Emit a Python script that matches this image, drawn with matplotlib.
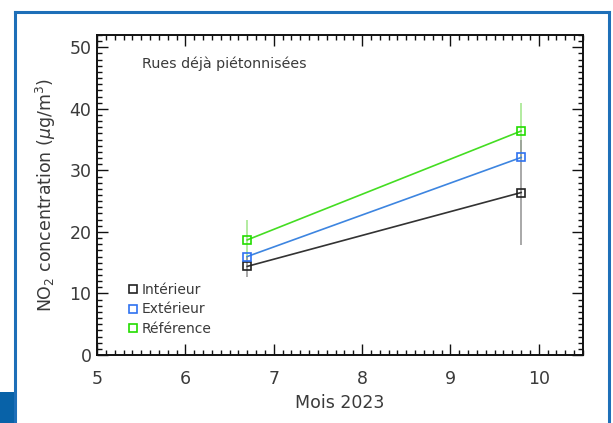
import matplotlib
matplotlib.use("Agg")
import matplotlib.pyplot as plt
from matplotlib.patches import Rectangle
from matplotlib.lines import Line2D
from matplotlib.ticker import MultipleLocator

plt.rcParams['font.family'] = ['DejaVu Sans']

# Data
months = [6.7, 9.8]
interieur = [14.4, 26.4]
interieur_err = [1.7, 8.6]
exterieur = [16.0, 32.1]
reference = [18.7, 36.4]
reference_err = [3.2, 4.6]
series_labels = ["Intérieur", "Extérieur", "Référence"]
title_text = "Rues déjà piétonnisées"
xlabel = "Mois 2023"
ylabel = r"NO$_2$ concentration ($\mu$g/m$^3$)"

W, H = 613, 423
fig = plt.figure(figsize=(W / 100, H / 100), dpi=100)

# decorative frame
frame_col = "#1e6fb8"
fig.add_artist(Line2D([14.5 / W, 14.5 / W], [0, 1 - 12 / H], transform=fig.transFigure, color=frame_col, lw=2.2))
fig.add_artist(Line2D([14.5 / W, 609 / W], [1 - 12 / H, 1 - 12 / H], transform=fig.transFigure, color=frame_col, lw=2.2))
fig.add_artist(Line2D([609 / W, 609 / W], [0, 1 - 12 / H], transform=fig.transFigure, color=frame_col, lw=2.2))
fig.add_artist(Rectangle((0, 0), 15.5 / W, 31 / H, transform=fig.transFigure, color="#0862a8", lw=0))

ax = fig.add_axes([97 / W, 1 - 355 / H, (583 - 97) / W, (355 - 35) / H])

txt = "#3a3a3a"
# error bars
ax.errorbar(months, reference, yerr=reference_err, fmt='none', ecolor="#a6e890", elinewidth=1.2, zorder=2)
ax.errorbar(months, interieur, yerr=interieur_err, fmt='none', ecolor="#9a9a9a", elinewidth=1.2, zorder=2.5)

ax.plot(months, interieur, color="#333333", lw=1.2, marker='s', ms=5.3, mfc='none', mec="#222222", mew=1.2,
        label=series_labels[0], zorder=3)
ax.plot(months, exterieur, color="#3d85e0", lw=1.2, marker='s', ms=5.3, mfc='none', mec="#2f72f0", mew=1.2,
        label=series_labels[1], zorder=3)
ax.plot(months, reference, color="#44dd22", lw=1.2, marker='s', ms=5.3, mfc='none', mec="#22dd00", mew=1.2,
        label=series_labels[2], zorder=3)

ax.set_xlim(5, 10.5)
ax.set_ylim(0, 52)
ax.xaxis.set_major_locator(MultipleLocator(1))
ax.xaxis.set_minor_locator(MultipleLocator(0.1))
ax.yaxis.set_major_locator(MultipleLocator(10))
ax.yaxis.set_minor_locator(MultipleLocator(1))
ax.tick_params(which='both', direction='in', top=True, right=True, color='#111111', width=1.0)
ax.tick_params(which='major', length=8)
ax.tick_params(which='minor', length=3.5)
ax.tick_params(axis='x', which='major', pad=11, labelsize=12.5, labelcolor=txt)
ax.tick_params(axis='y', which='major', pad=4, labelsize=12.5, labelcolor=txt)
for s in ax.spines.values():
    s.set_linewidth(1.4)
    s.set_color('#111111')

ax.set_xlabel(xlabel, fontsize=12.5, color=txt, labelpad=4)
ax.set_ylabel(ylabel, fontsize=12.5, color=txt, labelpad=8)

ax.text(0.093, 0.91, title_text, transform=ax.transAxes, fontsize=10.3, color=txt, va='center', ha='left')

leg = ax.legend(loc='lower left', bbox_to_anchor=(0.055, 0.042), frameon=False, fontsize=10,
                handlelength=0.6, handletextpad=0.3, labelspacing=0.4, borderaxespad=0)
for h in leg.legend_handles:
    h.set_linestyle('none')
for t in leg.get_texts():
    t.set_color(txt)

fig.savefig("out.png", dpi=100)
